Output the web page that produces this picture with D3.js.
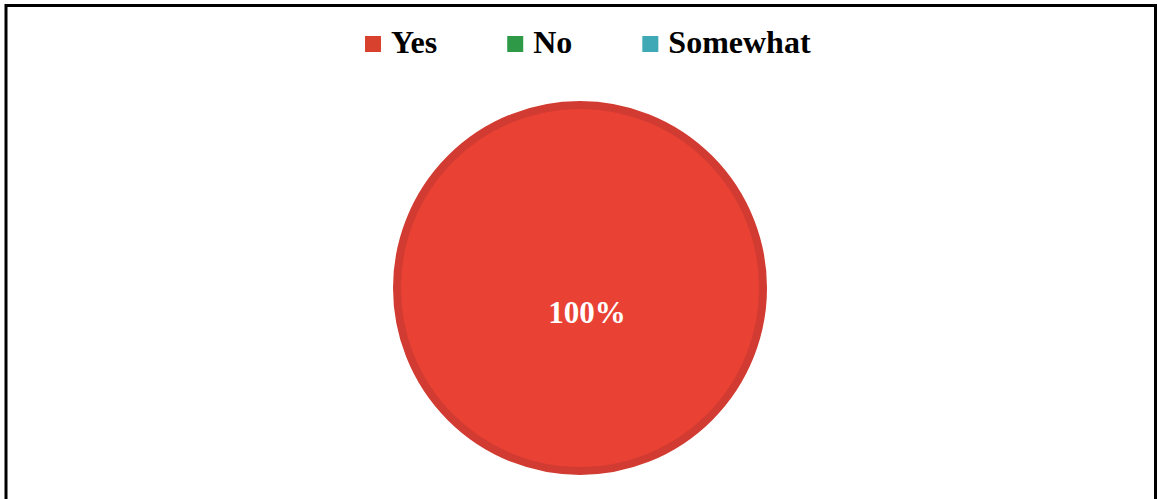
<!DOCTYPE html>
<html>
<head>
<meta charset="utf-8">
<script src="https://cdn.jsdelivr.net/npm/d3@7"></script>
<style>
  body { margin:0; background:#fff; }
  svg { display:block; }
</style>
</head>
<body>
<div id="chart"></div>
<script>
var width = 1157, height = 499;

// donnees du graphique
var categories = ["Yes", "No", "Somewhat"];
var values = [100, 0, 0];
var legendColors = ["#d9412f", "#2e9a48", "#3fa9b5"];
var sliceColors = ["#e94235", "#2e9a48", "#3fa9b5"];

var svg = d3.select("#chart").append("svg")
    .attr("width", width)
    .attr("height", height);

// cadre noir
svg.append("rect")
  .attr("x", 6).attr("y", 5.5)
  .attr("width", 1149.5).attr("height", 520)
  .attr("fill", "none").attr("stroke", "#000").attr("stroke-width", 3);

var cx = 580, cy = 288, r = 183;

var pie = d3.pie().sort(null).value(function(d){ return d; });
var arc = d3.arc().innerRadius(0).outerRadius(r);
var arcs = pie(values);

var g = svg.append("g").attr("transform", "translate(" + cx + "," + cy + ")");

g.selectAll("path")
  .data(arcs.filter(function(d){ return d.value > 0; }))
  .enter().append("path")
    .attr("d", arc)
    .attr("fill", function(d){ return sliceColors[d.index]; })
    .attr("stroke", "#d23b31")
    .attr("stroke-width", 8);

// etiquette de pourcentage
var total = d3.sum(values);
g.selectAll("text.lbl")
  .data(arcs.filter(function(d){ return d.value > 0; }))
  .enter().append("text")
    .attr("class", "lbl")
    .attr("x", 7).attr("y", 35)
    .attr("text-anchor", "middle")
    .attr("fill", "#fff")
    .style("font-family", "'Liberation Serif','Times New Roman',serif")
    .style("font-weight", "bold")
    .style("font-size", "31px")
    .text(function(d){ return d3.format(".0%")(d.value / total); });

// legende
var legend = svg.append("g");
var sq = 16, gapText = 10, gapItem = 70, fontSize = 32;
var items = legend.selectAll("g.item")
  .data(categories)
  .enter().append("g").attr("class", "item");

items.append("rect")
  .attr("width", sq).attr("height", sq)
  .attr("y", 36)
  .attr("fill", function(d, i){ return legendColors[i]; });

items.append("text")
  .attr("x", sq + gapText)
  .attr("y", 53)
  .style("font-family", "'Liberation Serif','Times New Roman',serif")
  .style("font-weight", "bold")
  .style("font-size", fontSize + "px")
  .attr("fill", "#000")
  .text(function(d){ return d; });

var xpos = 365;
items.each(function(){
  d3.select(this).attr("transform", "translate(" + xpos + ",0)");
  xpos += this.getBBox().width + gapItem;
});
</script>
</body>
</html>
